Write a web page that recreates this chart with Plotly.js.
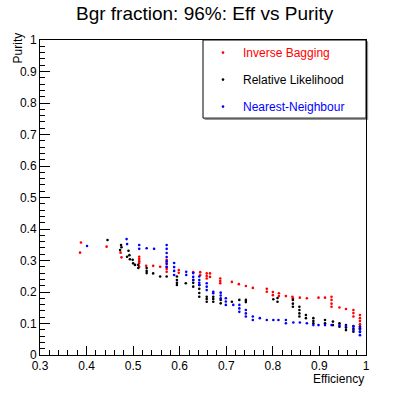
<!DOCTYPE html>
<html>
<head>
<meta charset="utf-8">
<script src="https://cdn.plot.ly/plotly-3.0.1.min.js"></script>
<style>
html, body { margin: 0; padding: 0; background: #fff; }
#chart { width: 407px; height: 395px; }
</style>
</head>
<body>
<div id="chart"></div>
<script>
// --- values: efficiency (x) vs purity (y) ---
// Inverse Bagging (red)
const ibEff = [0.388, 0.386, 0.443, 0.473, 0.475,
    0.513, 0.513, 0.513, 0.513, 0.513,
    0.528, 0.543, 0.558,
    0.572, 0.572, 0.572, 0.572, 0.572,
    0.598, 0.598,
    0.629,
    0.644, 0.644,
    0.658, 0.658, 0.658, 0.665, 0.665,
    0.687, 0.687, 0.687,
    0.712, 0.727, 0.742, 0.757,
    0.787, 0.787, 0.800, 0.800, 0.813, 0.813, 0.828,
    0.842, 0.843, 0.858, 0.873, 0.898, 0.912,
    0.926, 0.926, 0.926, 0.926,
    0.943, 0.957, 0.973, 0.973, 0.973,
    0.987, 0.987, 0.987, 0.987, 0.987];
const ibPur = [0.357, 0.325, 0.344, 0.325, 0.310,
    0.312, 0.305, 0.298, 0.292, 0.280,
    0.283, 0.283, 0.280,
    0.302, 0.292, 0.280, 0.273, 0.264,
    0.270, 0.261,
    0.263,
    0.263, 0.254,
    0.259, 0.251, 0.243, 0.259, 0.248,
    0.243, 0.235, 0.228,
    0.232, 0.225, 0.219, 0.213,
    0.210, 0.201, 0.200, 0.190, 0.196, 0.187, 0.187,
    0.185, 0.180, 0.182, 0.180, 0.182, 0.182,
    0.185, 0.175, 0.163, 0.153,
    0.151, 0.146, 0.143, 0.133, 0.122,
    0.127, 0.117, 0.108, 0.098, 0.090];

// Relative Likelihood (black)
const rlEff = [0.445, 0.474, 0.475, 0.472,
    0.490, 0.492, 0.487, 0.493,
    0.499, 0.500, 0.504,
    0.511, 0.511,
    0.529, 0.529, 0.529,
    0.543, 0.558, 0.572,
    0.594, 0.594, 0.594, 0.594,
    0.613,
    0.629, 0.629, 0.629,
    0.642, 0.642, 0.642, 0.642,
    0.658, 0.658, 0.658,
    0.672, 0.672, 0.672,
    0.688, 0.688,
    0.712, 0.728, 0.742, 0.742,
    0.801, 0.810, 0.810,
    0.843, 0.843, 0.843,
    0.857, 0.857, 0.857, 0.857,
    0.871, 0.871,
    0.887, 0.887, 0.887,
    0.912, 0.912,
    0.929, 0.929,
    0.943, 0.943,
    0.957, 0.957, 0.957,
    0.973, 0.973, 0.973,
    0.987, 0.987];
const rlPur = [0.365, 0.349, 0.342, 0.333,
    0.331, 0.317, 0.312, 0.304,
    0.302, 0.291, 0.286,
    0.286, 0.276,
    0.276, 0.267, 0.260,
    0.259, 0.249, 0.249,
    0.249, 0.238, 0.229, 0.222,
    0.228,
    0.238, 0.229, 0.217,
    0.222, 0.210, 0.197, 0.185,
    0.185, 0.178, 0.169,
    0.185, 0.178, 0.169,
    0.175, 0.164,
    0.169, 0.175, 0.175, 0.168,
    0.177, 0.181, 0.169,
    0.175, 0.163, 0.153,
    0.153, 0.143, 0.132, 0.122,
    0.127, 0.117,
    0.117, 0.108, 0.101,
    0.111, 0.101,
    0.106, 0.095,
    0.101, 0.090,
    0.095, 0.087, 0.079,
    0.092, 0.083, 0.074,
    0.085, 0.074];

// Nearest-Neighbour (blue)
const nnEff = [0.401, 0.486, 0.487,
    0.513, 0.513, 0.529, 0.545,
    0.572, 0.572, 0.572, 0.572, 0.572, 0.572, 0.572,
    0.588, 0.588, 0.588, 0.588,
    0.614, 0.614,
    0.629, 0.629, 0.629,
    0.642, 0.642, 0.642, 0.642,
    0.658, 0.658, 0.658,
    0.672, 0.672,
    0.688, 0.688, 0.688,
    0.699, 0.699, 0.699,
    0.715,
    0.728, 0.728, 0.728,
    0.742, 0.742, 0.742,
    0.757, 0.757,
    0.772, 0.787, 0.801, 0.812,
    0.828, 0.828,
    0.844, 0.858, 0.873, 0.887, 0.898, 0.912, 0.926, 0.943, 0.957,
    0.973, 0.973,
    0.987, 0.987, 0.987, 0.987];
const nnPur = [0.346, 0.368, 0.352,
    0.349, 0.337, 0.339, 0.337,
    0.349, 0.337, 0.324, 0.311, 0.298, 0.289, 0.279,
    0.292, 0.279, 0.267, 0.254,
    0.264, 0.254,
    0.260, 0.248, 0.238,
    0.249, 0.238, 0.229, 0.222,
    0.228, 0.217, 0.206,
    0.201, 0.196,
    0.198, 0.189, 0.180,
    0.180, 0.170, 0.159,
    0.159,
    0.159, 0.148, 0.137,
    0.143, 0.132, 0.122,
    0.122, 0.111,
    0.117, 0.111, 0.111, 0.111,
    0.111, 0.101,
    0.103, 0.103, 0.101, 0.095, 0.095, 0.095, 0.095, 0.095, 0.092,
    0.090, 0.079,
    0.090, 0.081, 0.073, 0.063];

const seriesNames = ['Inverse Bagging', 'Relative Likelihood', 'Nearest-Neighbour'];
const seriesColors = ['#ff0000', '#000000', '#0000ff'];

function makeTrace(x, y, i) {
    return {
        x: x, y: y, type: 'scatter', mode: 'markers',
        name: '<span style="color:' + seriesColors[i] + '">' + seriesNames[i] + '</span>',
        legendgroup: 'g' + i,
        marker: { color: seriesColors[i], size: 2.6, symbol: 'circle' },
        hoverinfo: 'x+y'
    };
}

const traces = [
    makeTrace(ibEff, ibPur, 0),
    makeTrace(rlEff, rlPur, 1),
    makeTrace(nnEff, nnPur, 2)
];

const font = 'Liberation Sans, Arial, sans-serif';

const layout = {
    width: 407,
    height: 395,
    margin: { l: 40, r: 41, t: 40, b: 40, pad: 0 },
    paper_bgcolor: '#fff',
    plot_bgcolor: '#fff',
    font: { family: font, size: 12, color: '#000' },
    title: {
        text: 'Bgr fraction: 96%: Eff vs Purity',
        font: { family: font, size: 19, color: '#000' },
        x: 0.505, xanchor: 'center', xref: 'paper',
        y: 0.965, yanchor: 'middle'
    },
    showlegend: true,
    legend: {
        x: 0.5, xanchor: 'left', y: 1.006, yanchor: 'top',
        bgcolor: 'rgba(0,0,0,0)', borderwidth: 0,
        font: { family: font, size: 12 },
        tracegroupgap: 8
    },
    xaxis: {
        range: [0.3, 1], dtick: 0.1, tick0: 0,
        ticks: 'inside', ticklen: 9, tickcolor: '#000', tickwidth: 1,
        minor: { dtick: 0.02, ticks: 'inside', ticklen: 5, tickcolor: '#000', showgrid: false },
        showline: true, linecolor: '#000', linewidth: 1, mirror: true,
        showgrid: false, zeroline: false,
        tickfont: { family: font, size: 12 }
    },
    yaxis: {
        range: [0, 1], dtick: 0.1, tick0: 0,
        ticks: 'inside', ticklen: 10, tickcolor: '#000', tickwidth: 1,
        minor: { dtick: 0.02, ticks: 'inside', ticklen: 5, tickcolor: '#000', showgrid: false },
        showline: true, linecolor: '#000', linewidth: 1, mirror: true,
        showgrid: false, zeroline: false,
        tickfont: { family: font, size: 12 }
    },
    annotations: [
        { text: 'Efficiency', xref: 'paper', yref: 'paper', x: 1, y: -0.077,
          xanchor: 'right', yanchor: 'middle', showarrow: false, font: { family: font, size: 12 } },
        { text: 'Purity', xref: 'paper', yref: 'paper', x: -0.069, y: 0.975, textangle: -90,
          xanchor: 'center', yanchor: 'middle', showarrow: false, font: { family: font, size: 12 } }
    ],
    shapes: [
        // legend shadow
        { type: 'line', xref: 'paper', yref: 'paper', x0: 1.005, x1: 1.005, y0: 0.996, y1: 0.748,
          line: { color: '#888', width: 1 }, layer: 'below' },
        { type: 'line', xref: 'paper', yref: 'paper', x0: 0.505, x1: 1.005, y0: 0.748, y1: 0.748,
          line: { color: '#888', width: 1 }, layer: 'below' },
        // legend box
        { type: 'rect', xref: 'paper', yref: 'paper', x0: 0.5, x1: 1, y0: 0.752, y1: 1,
          line: { color: '#000', width: 1 }, fillcolor: '#fff', layer: 'below' }
    ]
};

Plotly.newPlot('chart', traces, layout, { displayModeBar: false, staticPlot: true });
</script>
</body>
</html>
